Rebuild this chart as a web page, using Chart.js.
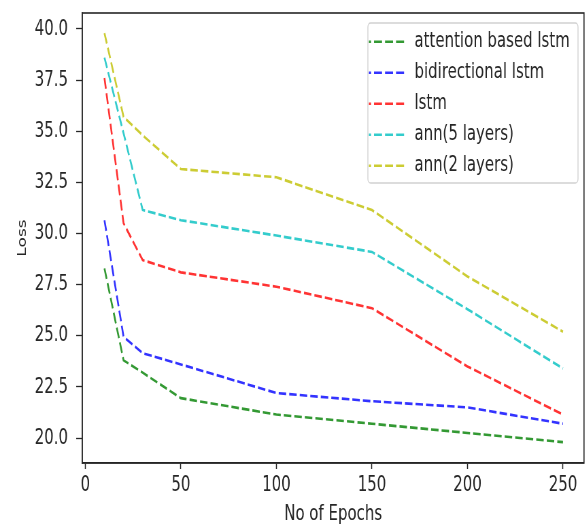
<!DOCTYPE html>
<html>
<head>
<meta charset="utf-8">
<script src="https://cdn.jsdelivr.net/npm/chart.js@4.4.1/dist/chart.umd.min.js"></script>
<style>
  html, body { margin: 0; padding: 0; background: #fff; overflow: hidden; }
  #wrap { width: 585px; height: 525px; position: relative; overflow: hidden; }
  #c { position: absolute; left: 0; top: 0; transform: scaleX(0.68); transform-origin: 0 0; }
</style>
</head>
<body>
<div id="wrap"><canvas id="c" width="860" height="525"></canvas></div>
<script>
const epochs = [10, 20, 30, 50, 100, 150, 200, 250];
const seriesNames = ["attention based lstm", "bidirectional lstm", "lstm", "ann(5 layers)", "ann(2 layers)"];
const attentionLstm = [28.3, 23.8, 23.2, 21.95, 21.15, 20.7, 20.25, 19.8];
const bidirectionalLstm = [30.65, 24.95, 24.15, 23.6, 22.2, 21.8, 21.5, 20.7];
const lstm = [37.6, 30.5, 28.7, 28.1, 27.4, 26.35, 23.5, 21.15];
const ann5 = [38.6, 34.9, 31.15, 30.65, 29.9, 29.1, 26.3, 23.4];
const ann2 = [39.8, 35.7, 34.8, 33.15, 32.75, 31.15, 27.9, 25.2];
const xTicks = [0, 50, 100, 150, 200, 250];
const yTicks = [20.0, 22.5, 25.0, 27.5, 30.0, 32.5, 35.0, 37.5, 40.0];

const colors = ["rgba(0,128,0,0.8)", "rgba(0,0,255,0.8)", "rgba(255,0,0,0.8)", "rgba(0,191,191,0.8)", "rgba(191,191,0,0.8)"];
const allSeries = [attentionLstm, bidirectionalLstm, lstm, ann5, ann2];

const FONT = "'DejaVu Sans', sans-serif";
const INK = "#262626";
const DASH = [11, 4.5];
const LW = 2.6;

const datasets = allSeries.map((vals, i) => ({
  label: seriesNames[i],
  data: epochs.map((e, j) => ({ x: e, y: vals[j] })),
  borderColor: colors[i],
  backgroundColor: colors[i],
  borderWidth: LW,
  borderDash: DASH,
  segment: { borderDash: () => DASH },
  pointRadius: 0,
  tension: 0,
  fill: false
}));

const framePlugin = {
  id: 'frame',
  afterLayout(chart) {
    const lg = chart.legend;
    if (lg) {
      lg.left = 533.5; lg.top = 21.7;
      lg.right = chart.width; lg.bottom = chart.chartArea.bottom;
      lg.width = lg.right - lg.left; lg.height = lg.bottom - lg.top;
    }
  },
  beforeDraw(chart) {
    const ctx = chart.ctx;
    ctx.save();
    ctx.fillStyle = '#fff';
    ctx.fillRect(0, 0, chart.width, chart.height);
    const x = 541, y = 23, w = 309, h = 160, r = 4;
    ctx.beginPath();
    ctx.moveTo(x + r, y);
    ctx.arcTo(x + w, y, x + w, y + h, r);
    ctx.arcTo(x + w, y + h, x, y + h, r);
    ctx.arcTo(x, y + h, x, y, r);
    ctx.arcTo(x, y, x + w, y, r);
    ctx.closePath();
    ctx.fillStyle = 'rgba(255,255,255,0.8)';
    ctx.fill();
    ctx.strokeStyle = 'rgba(204,204,204,0.9)';
    ctx.lineWidth = 1.3;
    ctx.stroke();
    ctx.restore();
  },
  afterDraw(chart) {
    const { left, top, right, bottom } = chart.chartArea;
    const ctx = chart.ctx;
    ctx.save();
    ctx.strokeStyle = INK;
    ctx.lineWidth = 1.6;
    ctx.strokeRect(left, top, right - left, bottom - top);
    ctx.restore();
  }
};

new Chart(document.getElementById('c'), {
  type: 'line',
  data: { datasets },
  plugins: [framePlugin],
  options: {
    responsive: false,
    animation: false,
    devicePixelRatio: 1,
    layout: { padding: { top: 13, right: 1.2, left: 0, bottom: 0 } },
    plugins: {
      tooltip: { enabled: false },
      legend: {
        position: 'chartArea',
        align: 'start',
        labels: {
          usePointStyle: true,
          pointStyleWidth: 56,
          boxHeight: 22,
          padding: 9,
          color: INK,
          font: { family: FONT, size: 22 },
          generateLabels(chart) {
            return chart.data.datasets.map((ds, i) => ({
              text: ds.label,
              fillStyle: ds.borderColor,
              strokeStyle: ds.borderColor,
              lineWidth: ds.borderWidth,
              lineDash: [11.8, 4.4],
              lineDashOffset: -7.5,
              pointStyle: 'line',
              hidden: false,
              fontColor: INK,
              datasetIndex: i
            }));
          }
        }
      }
    },
    scales: {
      x: {
        type: 'linear',
        min: -1.6,
        max: 261,
        afterFit(s) { s.height = 62; s.paddingLeft = 0; s.paddingRight = 0; },
        afterBuildTicks(s) { s.ticks = xTicks.map(v => ({ value: v })); },
        grid: { drawOnChartArea: false, drawTicks: true, tickLength: 6, tickColor: INK, tickWidth: 1.5 },
        border: { display: true, color: INK, width: 1.6 },
        ticks: { color: INK, padding: 3, font: { family: FONT, size: 22 }, callback: v => String(v) },
        title: { display: true, text: 'No of Epochs', color: INK, font: { family: FONT, size: 22, lineHeight: 1 }, padding: { top: 0, bottom: 0 } }
      },
      y: {
        type: 'linear',
        min: 18.78,
        max: 40.78,
        afterFit(s) { s.width = 121; s.paddingTop = 0; s.paddingBottom = 0; },
        afterBuildTicks(s) { s.ticks = yTicks.map(v => ({ value: v })); },
        grid: { drawOnChartArea: false, drawTicks: true, tickLength: 9, tickColor: INK, tickWidth: 1.3 },
        border: { display: true, color: INK, width: 1.6 },
        ticks: { color: INK, padding: 12, font: { family: FONT, size: 22 }, callback: v => Number(v).toFixed(1) },
        title: { display: true, text: 'Loss', color: INK, font: { family: FONT, size: 17 }, padding: { top: 23, bottom: 0 } }
      }
    }
  }
});
</script>
</body>
</html>
